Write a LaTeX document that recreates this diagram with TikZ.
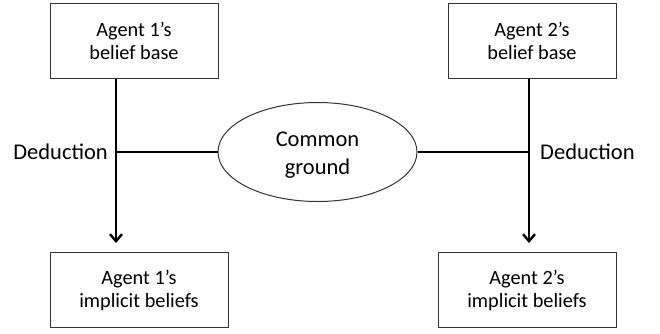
\documentclass[tikz,border=0pt]{standalone}
\usepackage{fontspec}
\setmainfont{Carlito}
\usetikzlibrary{arrows.meta,shapes.geometric}
\begin{document}
\begin{tikzpicture}[x=1pt,y=-1pt,
  boxnode/.style={draw=black!80,line width=1pt,minimum width=#1,minimum height=75pt,inner sep=0pt,align=center,font=\fontsize{20.3}{23}\selectfont},
  boxnode/.default=168pt,
  link/.style={line width=2.9pt},
  lbl/.style={font=\fontsize{22.5}{26}\selectfont,inner sep=0pt}]
\useasboundingbox (0,0) rectangle (660,333);
\node[boxnode] (b1) at (134,40.5) {Agent 1’s\\belief base};
\node[boxnode] (b2) at (532,40.5) {Agent 2’s\\belief base};
\node[boxnode=178pt] (i1) at (139,290) {Agent 1’s\\implicit beliefs};
\node[boxnode=178pt] (i2) at (527,290) {Agent 2’s\\implicit beliefs};
\node[ellipse,draw=black!80,line width=1pt,minimum width=199pt,minimum height=99pt,inner sep=0pt,align=center] (cg) at (317.5,152) {};
\node[align=center,font=\fontsize{22.5}{28}\selectfont,inner sep=0pt] (cgt) at (317.5,155) {Common\\ground};
\coordinate (j1) at (116,152);
\coordinate (j2) at (529,152);
\coordinate (t1) at (116,243);
\coordinate (t2) at (529,243);
\draw[link] (b1.south -| j1) -- (j1);
\draw[link,-{Straight Barb[length=7pt,width=12pt,line width=2.4pt]}] (j1) -- (t1);
\draw[link] (b2.south -| j2) -- (j2);
\draw[link,-{Straight Barb[length=7pt,width=12pt,line width=2.4pt]}] (j2) -- (t2);
\draw[link] (j1) -- (cg.west);
\draw[link] (cg.east) -- (j2);
\node[lbl,anchor=east] (d1) at (108,152) {Deduction};
\node[lbl,anchor=west] (d2) at (540,152) {Deduction};
\end{tikzpicture}
\end{document}
